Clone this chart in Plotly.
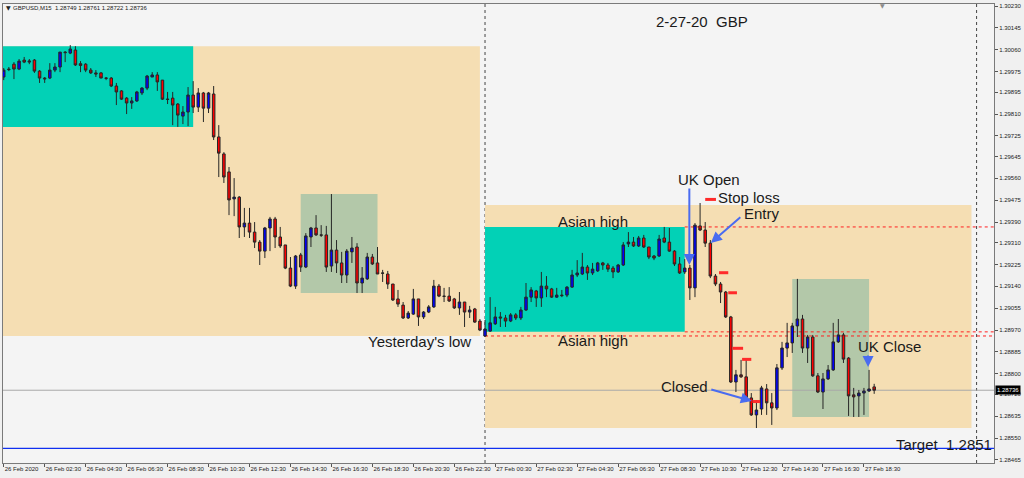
import plotly.graph_objects as go
import pandas as pd

# ---------------- data ----------------
header_text = "GBPUSD,M15  1.28749 1.28761 1.28722 1.28736"
start_time = pd.Timestamp("2020-02-26 00:30")

opens = [1.29954, 1.29985, 1.30004, 1.29985, 1.30020, 1.30012, 1.30020, 1.29977, 1.29950, 1.29950,
         1.29981, 1.29993, 1.30051, 1.30047, 1.30059, 1.30006, 1.30004, 1.29981, 1.29970, 1.29970,
         1.29950, 1.29950, 1.29919, 1.29900, 1.29872, 1.29853, 1.29861, 1.29892, 1.29911, 1.29954,
         1.29962, 1.29942, 1.29868, 1.29872, 1.29849, 1.29802, 1.29818, 1.29884, 1.29837, 1.29892,
         1.29833, 1.29888, 1.29721, 1.29655, 1.29585, 1.29480, 1.29487, 1.29371, 1.29386, 1.29351,
         1.29312, 1.29277, 1.29367, 1.29402, 1.29332, 1.29301, 1.29211, 1.29141, 1.29262, 1.29215,
         1.29332, 1.29367, 1.29340, 1.29340, 1.29219, 1.29281, 1.29231, 1.29184, 1.29274, 1.29293,
         1.29153, 1.29169, 1.29254, 1.29231, 1.29192, 1.29188, 1.29149, 1.29091, 1.29067, 1.29017,
         1.29032, 1.29091, 1.29021, 1.29040, 1.29060, 1.29141, 1.29102, 1.29102, 1.29091, 1.29056,
         1.29079, 1.29040, 1.29052, 1.29005, 1.28947, 1.28966, 1.28994, 1.29021, 1.29017, 1.29005,
         1.29029, 1.29017, 1.29048, 1.29098, 1.29122, 1.29095, 1.29141, 1.29130, 1.29098, 1.29106,
         1.29106, 1.29137, 1.29184, 1.29188, 1.29215, 1.29192, 1.29200, 1.29231, 1.29223, 1.29211,
         1.29196, 1.29223, 1.29305, 1.29312, 1.29297, 1.29328, 1.29293, 1.29258, 1.29258, 1.29328,
         1.29312, 1.29277, 1.29227, 1.29196, 1.29211, 1.29134, 1.29375, 1.29359, 1.29308, 1.29180,
         1.29149, 1.29118, 1.29021, 1.28768, 1.28796, 1.28788, 1.28706, 1.28640, 1.28663, 1.28741,
         1.28687, 1.28667, 1.28823, 1.28900, 1.28920, 1.28986, 1.29013, 1.28900, 1.28943, 1.28792,
         1.28729, 1.28780, 1.28815, 1.28924, 1.28951, 1.28861, 1.28718, 1.28714, 1.28725, 1.28733,
         1.28749]
highs = [1.29989, 1.29993, 1.30012, 1.30024, 1.30032, 1.30024, 1.30024, 1.29981, 1.29954, 1.30008,
         1.30008, 1.30051, 1.30055, 1.30078, 1.30074, 1.30016, 1.30008, 1.29989, 1.29981, 1.29973,
         1.29954, 1.29954, 1.29931, 1.29903, 1.29876, 1.29876, 1.29900, 1.29915, 1.29962, 1.29973,
         1.29973, 1.29942, 1.29896, 1.29896, 1.29853, 1.29841, 1.29915, 1.29938, 1.29911, 1.29896,
         1.29896, 1.29919, 1.29767, 1.29662, 1.29604, 1.29561, 1.29491, 1.29445, 1.29445, 1.29390,
         1.29320, 1.29371, 1.29410, 1.29410, 1.29371, 1.29301, 1.29254, 1.29262, 1.29270, 1.29347,
         1.29371, 1.29417, 1.29378, 1.29375, 1.29499, 1.29320, 1.29274, 1.29285, 1.29332, 1.29308,
         1.29215, 1.29270, 1.29266, 1.29293, 1.29204, 1.29200, 1.29149, 1.29126, 1.29079, 1.29044,
         1.29130, 1.29091, 1.29044, 1.29067, 1.29165, 1.29149, 1.29134, 1.29137, 1.29095, 1.29118,
         1.29079, 1.29064, 1.29056, 1.29013, 1.29009, 1.29098, 1.29060, 1.29040, 1.29029, 1.29036,
         1.29036, 1.29060, 1.29153, 1.29137, 1.29126, 1.29196, 1.29180, 1.29134, 1.29134, 1.29126,
         1.29141, 1.29204, 1.29242, 1.29270, 1.29223, 1.29231, 1.29235, 1.29235, 1.29231, 1.29219,
         1.29227, 1.29312, 1.29351, 1.29332, 1.29336, 1.29340, 1.29293, 1.29262, 1.29340, 1.29371,
         1.29367, 1.29281, 1.29254, 1.29246, 1.29223, 1.29386, 1.29464, 1.29390, 1.29320, 1.29188,
         1.29157, 1.29122, 1.29025, 1.28815, 1.28854, 1.28861, 1.28725, 1.28698, 1.28753, 1.28760,
         1.28725, 1.28838, 1.28924, 1.28998, 1.28998, 1.29169, 1.29029, 1.28951, 1.28951, 1.28803,
         1.28803, 1.28834, 1.28998, 1.29013, 1.28959, 1.28865, 1.28745, 1.28737, 1.28745, 1.28815,
         1.28761]
lows = [1.29942, 1.29977, 1.29946, 1.29981, 1.30008, 1.30004, 1.29970, 1.29931, 1.29931, 1.29946,
        1.29973, 1.29973, 1.30012, 1.30043, 1.29997, 1.29973, 1.29973, 1.29966, 1.29954, 1.29950,
        1.29942, 1.29915, 1.29845, 1.29865, 1.29810, 1.29830, 1.29857, 1.29884, 1.29903, 1.29954,
        1.29900, 1.29865, 1.29849, 1.29767, 1.29760, 1.29771, 1.29763, 1.29814, 1.29818, 1.29779,
        1.29814, 1.29709, 1.29565, 1.29542, 1.29417, 1.29413, 1.29328, 1.29332, 1.29328, 1.29289,
        1.29223, 1.29250, 1.29277, 1.29289, 1.29289, 1.29207, 1.29137, 1.29130, 1.29196, 1.29211,
        1.29293, 1.29336, 1.29332, 1.29196, 1.29196, 1.29192, 1.29153, 1.29153, 1.29231, 1.29114,
        1.29114, 1.29165, 1.29223, 1.29188, 1.29157, 1.29130, 1.29083, 1.29060, 1.29013, 1.29013,
        1.29029, 1.28986, 1.29013, 1.29036, 1.29056, 1.29098, 1.29079, 1.29079, 1.29052, 1.29029,
        1.28982, 1.29017, 1.28998, 1.28966, 1.28943, 1.28963, 1.28990, 1.28982, 1.28982, 1.29001,
        1.29009, 1.29009, 1.29044, 1.29079, 1.29060, 1.29060, 1.29098, 1.29095, 1.29095, 1.29098,
        1.29098, 1.29134, 1.29176, 1.29184, 1.29165, 1.29184, 1.29196, 1.29204, 1.29196, 1.29172,
        1.29192, 1.29219, 1.29293, 1.29293, 1.29293, 1.29289, 1.29246, 1.29242, 1.29254, 1.29308,
        1.29274, 1.29219, 1.29188, 1.29188, 1.29087, 1.29098, 1.29355, 1.29293, 1.29172, 1.29141,
        1.29075, 1.29017, 1.28764, 1.28729, 1.28784, 1.28690, 1.28636, 1.28589, 1.28640, 1.28640,
        1.28601, 1.28659, 1.28815, 1.28865, 1.28881, 1.28943, 1.28881, 1.28842, 1.28788, 1.28725,
        1.28663, 1.28776, 1.28811, 1.28920, 1.28842, 1.28636, 1.28632, 1.28632, 1.28640, 1.28729,
        1.28722]
closes = [1.29981, 1.29983, 1.29985, 1.30016, 1.30012, 1.30016, 1.29977, 1.29950, 1.29947, 1.29981,
          1.29993, 1.30051, 1.30049, 1.30063, 1.30001, 1.29999, 1.29981, 1.29970, 1.29966, 1.29950,
          1.29949, 1.29919, 1.29896, 1.29868, 1.29853, 1.29861, 1.29896, 1.29911, 1.29958, 1.29962,
          1.29935, 1.29868, 1.29867, 1.29845, 1.29806, 1.29818, 1.29884, 1.29837, 1.29892, 1.29833,
          1.29892, 1.29721, 1.29658, 1.29565, 1.29476, 1.29487, 1.29371, 1.29386, 1.29351, 1.29312,
          1.29277, 1.29367, 1.29402, 1.29332, 1.29297, 1.29211, 1.29141, 1.29258, 1.29215, 1.29336,
          1.29367, 1.29340, 1.29339, 1.29215, 1.29281, 1.29231, 1.29184, 1.29277, 1.29289, 1.29153,
          1.29172, 1.29254, 1.29227, 1.29188, 1.29191, 1.29149, 1.29087, 1.29071, 1.29017, 1.29036,
          1.29091, 1.29021, 1.29040, 1.29060, 1.29141, 1.29102, 1.29101, 1.29083, 1.29056, 1.29079,
          1.29040, 1.29048, 1.29001, 1.28970, 1.28974, 1.28998, 1.29021, 1.29017, 1.29005, 1.29029,
          1.29017, 1.29048, 1.29098, 1.29126, 1.29095, 1.29141, 1.29130, 1.29098, 1.29106, 1.29104,
          1.29137, 1.29184, 1.29192, 1.29215, 1.29192, 1.29207, 1.29231, 1.29223, 1.29207, 1.29196,
          1.29223, 1.29301, 1.29312, 1.29297, 1.29328, 1.29293, 1.29254, 1.29250, 1.29324, 1.29312,
          1.29277, 1.29227, 1.29192, 1.29211, 1.29134, 1.29378, 1.29359, 1.29308, 1.29180, 1.29149,
          1.29118, 1.29021, 1.28768, 1.28796, 1.28788, 1.28706, 1.28640, 1.28659, 1.28745, 1.28687,
          1.28667, 1.28823, 1.28900, 1.28920, 1.28986, 1.29013, 1.28900, 1.28943, 1.28792, 1.28729,
          1.28780, 1.28815, 1.28924, 1.28951, 1.28857, 1.28714, 1.28710, 1.28725, 1.28733, 1.28741,
          1.28736]

xtick_times = ["2020-02-26 00:30", "2020-02-26 02:30", "2020-02-26 04:30", "2020-02-26 06:30",
               "2020-02-26 08:30", "2020-02-26 10:30", "2020-02-26 12:30", "2020-02-26 14:30",
               "2020-02-26 16:30", "2020-02-26 18:30", "2020-02-26 20:30", "2020-02-26 22:30",
               "2020-02-27 00:30", "2020-02-27 02:30", "2020-02-27 04:30", "2020-02-27 06:30",
               "2020-02-27 08:30", "2020-02-27 10:30", "2020-02-27 12:30", "2020-02-27 14:30",
               "2020-02-27 16:30", "2020-02-27 18:30"]
xtick_labels = ["26 Feb 2020", "26 Feb 02:30", "26 Feb 04:30", "26 Feb 06:30", "26 Feb 08:30",
                "26 Feb 10:30", "26 Feb 12:30", "26 Feb 14:30", "26 Feb 16:30", "26 Feb 18:30",
                "26 Feb 20:30", "26 Feb 22:30", "27 Feb 00:30", "27 Feb 02:30", "27 Feb 04:30",
                "27 Feb 06:30", "27 Feb 08:30", "27 Feb 10:30", "27 Feb 12:30", "27 Feb 14:30",
                "27 Feb 16:30", "27 Feb 18:30"]
ytick_values = [1.30230, 1.30145, 1.30060, 1.29975, 1.29895, 1.29810, 1.29725, 1.29645, 1.29560,
                1.29475, 1.29390, 1.29310, 1.29225, 1.29140, 1.29055, 1.28970, 1.28885, 1.28800,
                1.28720, 1.28635, 1.28550, 1.28465]

# session boxes: (start, end, high, low)
day_box_start = ["2020-02-25 23:00", "2020-02-27 00:00"]
day_box_end = ["2020-02-26 23:45", "2020-02-27 23:45"]
day_box_high = [1.30074, 1.29456]
day_box_low = [1.28947, 1.28589]

asian_box_start = ["2020-02-25 23:00", "2020-02-27 00:00"]
asian_box_end = ["2020-02-26 09:45", "2020-02-27 09:45"]
asian_box_high = [1.30074, 1.29371]
asian_box_low = [1.29760, 1.28963]

ukclose_box_start = ["2020-02-26 15:00", "2020-02-27 15:00"]
ukclose_box_end = ["2020-02-26 18:45", "2020-02-27 18:45"]
ukclose_box_high = [1.29499, 1.29169]
ukclose_box_low = [1.29114, 1.28632]

asian_high_level = 1.29371
asian_low_level = 1.28963
yesterday_low = 1.28947
current_price = 1.28736
target_price = 1.2851
day_separators = ["2020-02-27 00:00", "2020-02-28 00:00"]

# trade level markers (price, start bar, end bar)
trade_levels = [1.29478, 1.29193, 1.29115, 1.28899, 1.28856, 1.28692]
trade_level_from = [137.0, 139.7, 141.5, 142.3, 144.2, 146.2]
trade_level_to = [139.1, 141.5, 143.2, 144.4, 146.0, 147.7]

# ---------------- figure ----------------
times = pd.date_range(start_time, periods=len(opens), freq="15min")


def bt(b):
    return (start_time + pd.Timedelta(minutes=15 * b)).strftime("%Y-%m-%d %H:%M:%S")


X_END = bt(220)

fig = go.Figure()
fig.add_trace(go.Candlestick(
    x=times, open=opens, high=highs, low=lows, close=closes,
    increasing=dict(line=dict(color="#262626", width=1), fillcolor="#0000FF"),
    decreasing=dict(line=dict(color="#262626", width=1), fillcolor="#FF0000"),
    whiskerwidth=0, hoverinfo="skip",
))

shapes = []
for x0, x1, hi, lo in zip(day_box_start, day_box_end, day_box_high, day_box_low):
    shapes.append(dict(type="rect", xref="x", yref="y", x0=x0, x1=x1, y0=lo, y1=hi,
                       fillcolor="#F5DEB3", line=dict(width=0), layer="below"))
for x0, x1, hi, lo in zip(asian_box_start, asian_box_end, asian_box_high, asian_box_low):
    shapes.append(dict(type="rect", xref="x", yref="y", x0=x0, x1=x1, y0=lo, y1=hi,
                       fillcolor="#02D1B6", line=dict(width=0), layer="below"))
for x0, x1, hi, lo in zip(ukclose_box_start, ukclose_box_end, ukclose_box_high, ukclose_box_low):
    shapes.append(dict(type="rect", xref="x", yref="y", x0=x0, x1=x1, y0=lo, y1=hi,
                       fillcolor="#B3C8A9", line=dict(width=0), layer="below"))

# horizontal lines
shapes.append(dict(type="line", xref="x", yref="y", x0=bt(-10), x1=X_END,
                   y0=current_price, y1=current_price, line=dict(color="#A8A8A8", width=1), layer="below"))
shapes.append(dict(type="line", xref="x", yref="y", x0=bt(-10), x1=X_END,
                   y0=target_price, y1=target_price, line=dict(color="#1030F0", width=1.2), layer="below"))
for lvl, x0 in [(asian_high_level, asian_box_end[1]), (asian_low_level, asian_box_end[1]),
                (yesterday_low, day_separators[0])]:
    shapes.append(dict(type="line", xref="x", yref="y", x0=x0, x1=X_END, y0=lvl, y1=lvl,
                       line=dict(color="#FF2020", width=1, dash="dot"), layer="below"))
for sep in day_separators:
    shapes.append(dict(type="line", xref="x", yref="paper", x0=sep, x1=sep, y0=0, y1=1,
                       line=dict(color="#444444", width=1, dash="dot"), layer="below"))
# trade markers
for lvl, b0, b1 in zip(trade_levels, trade_level_from, trade_level_to):
    shapes.append(dict(type="line", xref="x", yref="y", x0=bt(b0), x1=bt(b1), y0=lvl, y1=lvl,
                       line=dict(color="#FF2A2A", width=3), layer="above"))

fig.update_layout(shapes=shapes)

TXT = dict(family="Liberation Sans, Arial, sans-serif", size=15, color="#1A1A1A")
labels = [
    ("2-27-20\u00a0\u00a0GBP", 127.0, 1.30170),
    ("UK Open", 131.3, 1.29557),
    ("Stop loss", 139.1, 1.29487),
    ("Entry", 144.2, 1.29425),
    ("Asian high", 107.9, 1.29392),
    ("Asian high", 107.9, 1.28931),
    ("Yesterday's low", 70.8, 1.28924),
    ("UK Close", 166.5, 1.28907),
    ("Closed", 128.0, 1.28751),
    ("Target\u00a0\u00a01.2851", 173.9, 1.28526),
]
annotations = []
for txt, b, p in labels:
    annotations.append(dict(text=txt, x=bt(b), y=p, xref="x", yref="y", xanchor="left",
                            yanchor="middle", showarrow=False, font=TXT))

arrows = [(133.9, 1.29223, 0, -78), (138.1, 1.29309, 31, -27),
          (146.1, 1.28694, -42, -12), (168.8, 1.28826, 0, -13)]
for b, p, ax, ay in arrows:
    annotations.append(dict(text="", x=bt(b), y=p, xref="x", yref="y", showarrow=True,
                            ax=ax, ay=ay, arrowhead=2, arrowsize=1.1, arrowwidth=2,
                            arrowcolor="#4A6CF0", standoff=0))

SMALL = dict(family="Liberation Sans, Arial, sans-serif", size=6, color="#1A1A1A")
annotations.append(dict(text="\u25bc", x=0, y=1, xref="paper", yref="paper", xanchor="left",
                        yanchor="middle", xshift=1, yshift=-3.5, showarrow=False,
                        font=dict(family="DejaVu Sans", size=6, color="#222222")))
annotations.append(dict(text=header_text, x=0, y=1, xref="paper", yref="paper", xanchor="left",
                        yanchor="middle", xshift=8, yshift=-3.5, showarrow=False, font=SMALL))
annotations.append(dict(text="\u25bc", x=bt(171.6), y=1, xref="x", yref="paper", xanchor="center",
                        yanchor="middle", yshift=-1, showarrow=False,
                        font=dict(family="DejaVu Sans", size=6, color="#8A8A8A")))
annotations.append(dict(text="%.5f" % current_price, x=1, y=current_price, xref="paper", yref="y",
                        xanchor="left", yanchor="middle", xshift=1, showarrow=False,
                        bgcolor="#000000", borderpad=1,
                        font=dict(family="Liberation Sans, Arial, sans-serif", size=6, color="#FFFFFF")))
fig.update_layout(annotations=annotations)

fig.update_layout(
    width=1024, height=478,
    margin=dict(l=3, r=30, t=4, b=15, autoexpand=False),
    paper_bgcolor="#F0F0F0", plot_bgcolor="#F4F4F4",
    showlegend=False,
    xaxis=dict(
        type="date", range=[bt(-0.14), bt(193.4)], rangeslider=dict(visible=False),
        tickmode="array", tickvals=xtick_times, ticktext=xtick_labels, tickangle=0,
        automargin=False,
        ticks="outside", ticklen=3, tickcolor="#555555", ticklabelposition="outside right",
        tickfont=dict(family="Liberation Sans, Arial, sans-serif", size=6, color="#222222"),
        showgrid=False, zeroline=False, showline=True, linecolor="#7A7A7A", linewidth=1, mirror=True,
    ),
    yaxis=dict(
        side="right", range=[1.28453, 1.30238], automargin=False,
        tickmode="array", tickvals=ytick_values, ticktext=["%.5f" % v for v in ytick_values],
        ticks="outside", ticklen=3, tickcolor="#555555",
        tickfont=dict(family="Liberation Sans, Arial, sans-serif", size=6, color="#222222"),
        showgrid=False, zeroline=False, showline=True, linecolor="#7A7A7A", linewidth=1, mirror=True,
    ),
)

fig.write_html(
    "out.html",
    config={"displayModeBar": False, "staticPlot": True},
    post_script="document.body.style.margin='0';document.body.style.padding='0';"
                "document.body.style.overflow='hidden';document.body.style.background='#F0F0F0';",
)
